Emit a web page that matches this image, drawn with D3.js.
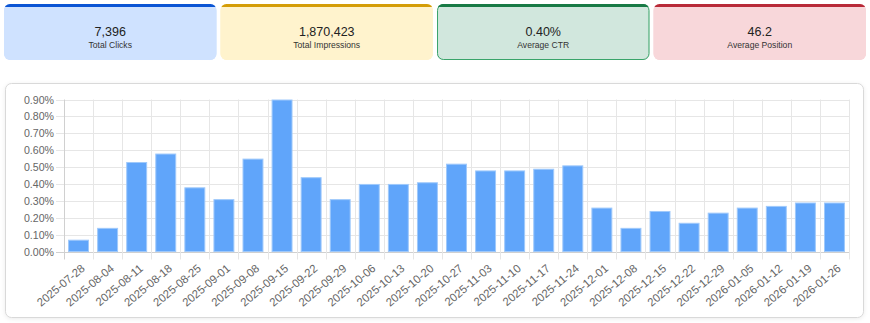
<!DOCTYPE html>
<html><head><meta charset="utf-8">
<script src="https://cdn.jsdelivr.net/npm/d3@7/dist/d3.min.js"></script>
<style>
html,body{margin:0;padding:0;background:#fff;font-family:Arial,"Liberation Sans",Helvetica,sans-serif;}
svg{display:block;}
</style></head>
<body><svg id="c" width="870" height="323"></svg>
<script>
const weeks = ["2025-07-28","2025-08-04","2025-08-11","2025-08-18","2025-08-25","2025-09-01","2025-09-08","2025-09-15","2025-09-22","2025-09-29","2025-10-06","2025-10-13","2025-10-20","2025-10-27","2025-11-03","2025-11-10","2025-11-17","2025-11-24","2025-12-01","2025-12-08","2025-12-15","2025-12-22","2025-12-29","2026-01-05","2026-01-12","2026-01-19","2026-01-26"];
const ctr = [0.07,0.14,0.53,0.58,0.38,0.31,0.55,0.90,0.44,0.31,0.40,0.40,0.41,0.52,0.48,0.48,0.49,0.51,0.26,0.14,0.24,0.17,0.23,0.26,0.27,0.29,0.29];
const yTicks = [0,0.1,0.2,0.3,0.4,0.5,0.6,0.7,0.8,0.9];
const cardValues = ["7,396","1,870,423","0.40%","46.2"];
const cardLabels = ["Total Clicks","Total Impressions","Average CTR","Average Position"];
const cardFills = ["#cfe2ff","#fff3cd","#d1e7dd","#f8d7da"];
const cardTops = ["#0b55d4","#d49d08","#187a45","#b82a38"];
const cardBorders = ["#cfe2ff","#fff3cd","#3aa46a","#f8d7da"];

const svg = d3.select("#c");

// cards
const cardX = d3.scaleBand().domain(d3.range(4)).range([4, 866]).paddingInner(0.0187);
const cg = svg.selectAll("g.card").data(cardValues).join("g").attr("class","card")
  .attr("transform",(d,i)=>`translate(${cardX(i)},4)`);
const cw = cardX.bandwidth(), ch = 56;
cg.append("clipPath").attr("id",(d,i)=>"cc"+i).append("rect")
  .attr("width",cw).attr("height",ch).attr("rx",6);
cg.append("rect").attr("width",cw).attr("height",ch).attr("rx",6)
  .attr("fill",(d,i)=>cardFills[i]);
cg.append("rect").attr("x",0.5).attr("y",0.5).attr("width",cw-1).attr("height",ch-1).attr("rx",6)
  .attr("fill","none").attr("stroke",(d,i)=>cardBorders[i]).attr("stroke-width",1);
cg.append("rect").attr("width",cw).attr("height",3)
  .attr("clip-path",(d,i)=>`url(#cc${i})`).attr("fill",(d,i)=>cardTops[i]);
cg.append("text").attr("x",cw/2).attr("y",28).attr("text-anchor","middle").attr("dominant-baseline","central")
  .attr("font-size","12.5px").attr("fill","#222").text(d=>d);
cg.append("text").attr("x",cw/2).attr("y",40.5).attr("text-anchor","middle").attr("dominant-baseline","central")
  .attr("font-size","8.6px").attr("fill","#333").text((d,i)=>cardLabels[i]);

// chart container
svg.append("rect").attr("x",5.5).attr("y",83.5).attr("width",858).attr("height",234).attr("rx",6)
  .attr("fill","#fff").attr("stroke","#d9d9d9").attr("stroke-width",1)
  .style("filter","drop-shadow(0px 1px 2px rgba(0,0,0,0.08))");

const L = 64, R = 849, T = 99.5, B = 251.5;
const x = d3.scaleBand().domain(weeks).range([L,R]).paddingInner(0.28).paddingOuter(0.14);
const y = d3.scaleLinear().domain([0,0.9]).range([B,T]);
const step = x.step();

const grid = svg.append("g");
grid.selectAll("line.h").data(yTicks).join("line").attr("class","h")
  .attr("x1",L-8).attr("x2",R).attr("y1",d=>Math.round(y(d))+0.5).attr("y2",d=>Math.round(y(d))+0.5)
  .attr("stroke",d=>d===0?"#d0d0d0":"#e6e6e6").attr("stroke-width",1);
const bounds = weeks.map(w=>x(w)-x.paddingOuter()*step).concat([R]);
grid.selectAll("line.v").data(bounds).join("line").attr("class","v")
  .attr("x1",d=>Math.round(d)+0.5).attr("x2",d=>Math.round(d)+0.5).attr("y1",T).attr("y2",B+8)
  .attr("stroke",(d,i)=>i===0?"#d0d0d0":"#e6e6e6").attr("stroke-width",1);

svg.append("g").selectAll("text").data(yTicks).join("text")
  .attr("x",54).attr("y",d=>y(d)).attr("text-anchor","end").attr("dominant-baseline","central")
  .attr("font-size","10.6px").attr("fill","#666").text(d=>d.toFixed(2)+"%");

svg.append("g").selectAll("rect").data(ctr).join("rect")
  .attr("x",(d,i)=>x(weeks[i])+0.5).attr("width",x.bandwidth()-1)
  .attr("y",d=>y(d)+0.5).attr("height",d=>B-y(d)-0.5)
  .attr("fill","#60a5fa").attr("stroke","#9fc9fb").attr("stroke-width",1);

svg.append("g").selectAll("text").data(weeks).join("text")
  .attr("transform",d=>`translate(${x(d)+x.bandwidth()/2+2},${B+12}) rotate(-40)`)
  .attr("text-anchor","end").attr("dy","0.7em")
  .attr("font-size","11.4px").attr("fill","#666").text(d=>d);
</script></body></html>
